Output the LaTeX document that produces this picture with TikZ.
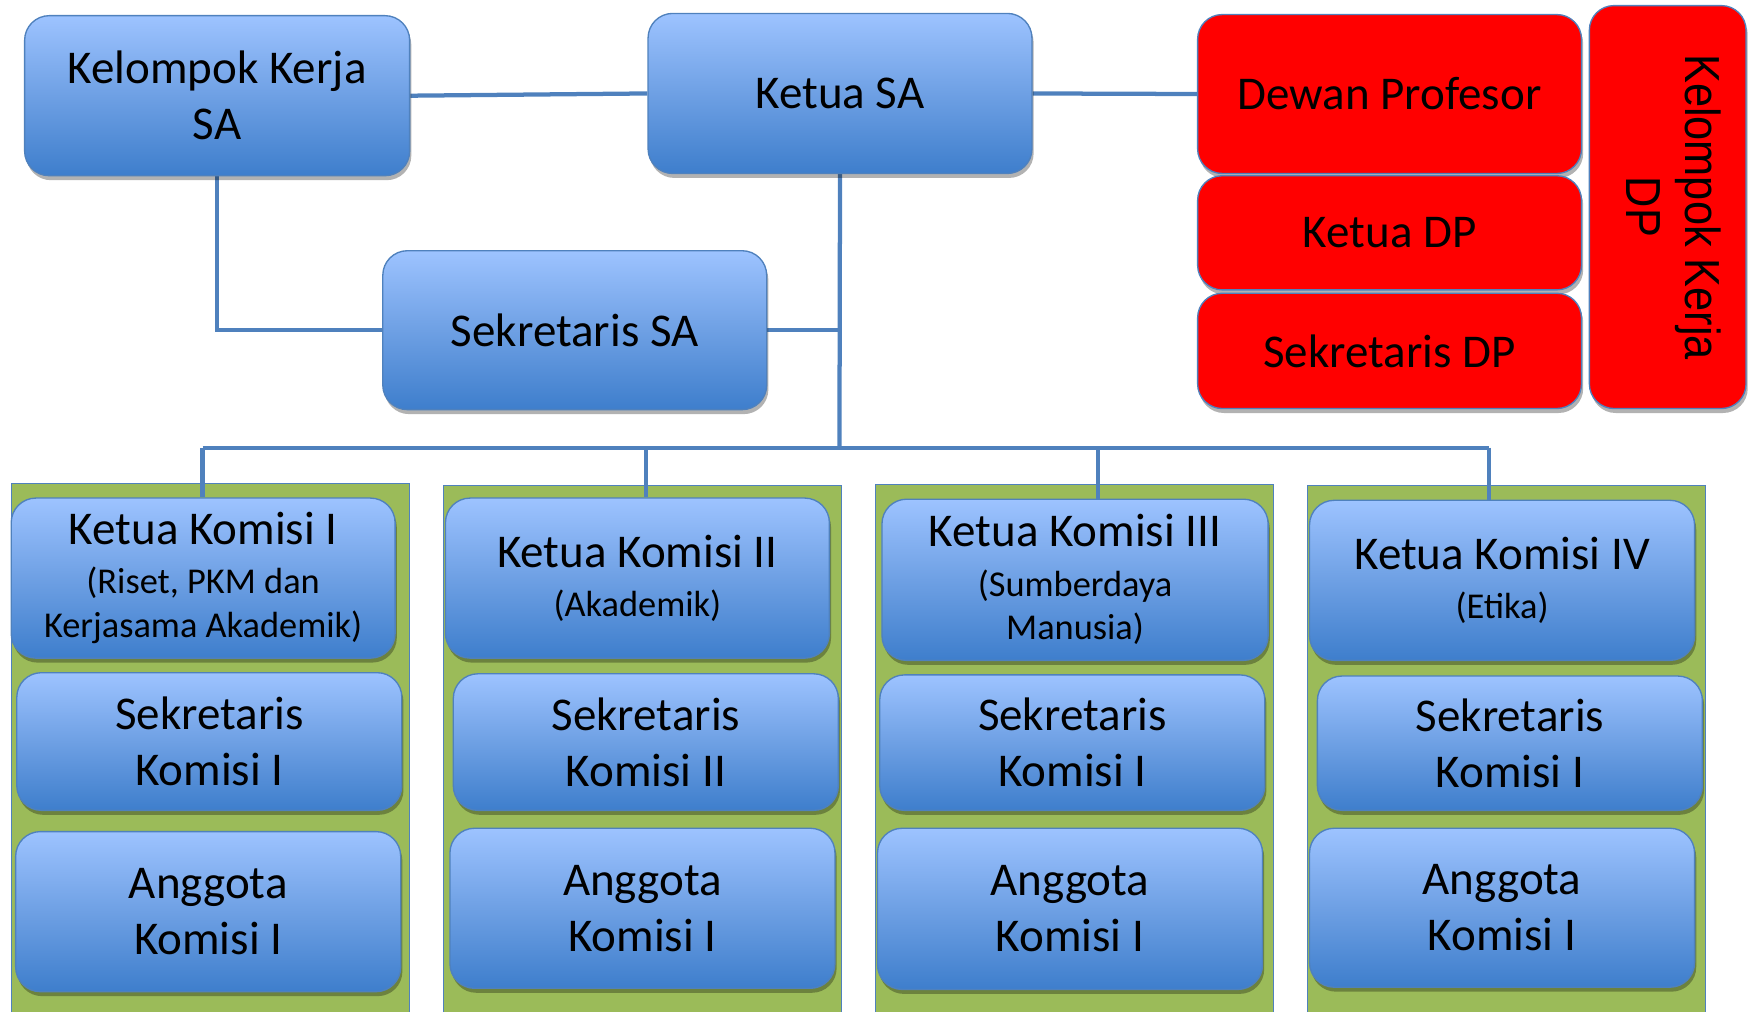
\documentclass[tikz,border=0pt]{standalone}
\usepackage{fontspec}
\usepackage{graphicx}
\setmainfont{Carlito}
\newfontfamily\arialf{Liberation Sans}
\usetikzlibrary{shadows,calc}
\pgfdeclarelayer{panels}
\pgfdeclarelayer{lines}
\pgfsetlayers{panels,lines,main}

\definecolor{lineblue}{RGB}{79,129,189}
\definecolor{topblue}{RGB}{157,195,255}
\definecolor{midblue}{RGB}{110,160,228}
\definecolor{botblue}{RGB}{62,126,204}
\definecolor{panelgreen}{RGB}{155,187,89}
\definecolor{boxred}{RGB}{255,0,0}

\newcommand\BigF{\fontsize{42}{50}\selectfont}
\newcommand\SmallF{\fontsize{32.5}{39}\selectfont}

\tikzset{
  shad/.style={drop shadow={shadow xshift=1.5pt, shadow yshift=-4pt, opacity=0.3, fill=black}},
  bluebox/.style={shad, draw=lineblue, line width=1.2pt, rounded corners=22,
    top color=topblue, bottom color=botblue, middle color=midblue,
    align=center, font=\BigF, inner sep=0pt},
  redbox/.style={shad, draw=lineblue, line width=1.2pt, rounded corners=22,
    fill=boxred, align=center, font=\BigF, inner sep=0pt},
  ketuabox/.style={bluebox, font=\fontsize{42}{39}\selectfont},
  panel/.style={draw=lineblue, line width=1.2pt, fill=panelgreen},
  conn/.style={draw=lineblue, line width=3.8pt},
}

\begin{document}
\begin{tikzpicture}[x=1pt,y=-1pt]
\useasboundingbox (0,0) rectangle (1568,904);

% panels
\begin{pgfonlayer}{panels}
\draw[panel] (10,432) rectangle (366,906);
\draw[panel] (396,434) rectangle (752,906);
\draw[panel] (782,433) rectangle (1138,906);
\draw[panel] (1168,434) rectangle (1524,906);
\end{pgfonlayer}

% top level
\node[bluebox, minimum width=344, minimum height=143] (kksa) at (194,85.5) {Kelompok Kerja\\SA};
\node[bluebox, minimum width=343, minimum height=143] (ketuasa) at (750.5,83.5) {Ketua SA};
\node[bluebox, minimum width=343, minimum height=142] (seksa) at (513.5,295) {Sekretaris SA};

\node[redbox, minimum width=343, minimum height=142] (dewan) at (1241.5,84) {Dewan Profesor};
\node[redbox, minimum width=343, minimum height=102] (ketuadp) at (1241.5,208) {Ketua DP};
\node[redbox, minimum width=343, minimum height=103] (sekdp) at (1241.5,313.5) {Sekretaris DP};
\node[redbox, rotate=-90, minimum width=360, minimum height=140] (kkdp) at (1490,185)
  {\scalebox{0.88}[1]{\arialf\fontsize{44}{53}\selectfont\begin{tabular}{@{}c@{}}Kelompok Kerja\\DP\end{tabular}}};

% komisi I
\node[ketuabox, minimum width=343, minimum height=143] (k1) at (181.5,516.5)
  {Ketua Komisi I\\[5pt]{\SmallF (Riset, PKM dan}\\{\SmallF Kerjasama Akademik)}};
\node[bluebox, minimum width=344, minimum height=123] (s1) at (187,662.5) {Sekretaris\\Komisi I};
\node[bluebox, minimum width=344, minimum height=143] (a1) at (186,814.5) {Anggota\\Komisi I};
% komisi II
\node[ketuabox, minimum width=343, minimum height=143] (k2) at (569.5,516.5)
  {Ketua Komisi II\\[5pt]{\SmallF (Akademik)}};
\node[bluebox, minimum width=344, minimum height=122] (s2) at (577,663) {Sekretaris\\Komisi II};
\node[bluebox, minimum width=344, minimum height=143] (a2) at (574,811.5) {Anggota\\Komisi I};
% komisi III
\node[ketuabox, minimum width=345, minimum height=144] (k3) at (960.5,518)
  {Ketua Komisi III\\[5pt]{\SmallF (Sumberdaya}\\{\SmallF Manusia)}};
\node[bluebox, minimum width=344, minimum height=121] (s3) at (958,663.5) {Sekretaris\\Komisi I};
\node[bluebox, minimum width=344, minimum height=144] (a3) at (956,812) {Anggota\\Komisi I};
% komisi IV
\node[ketuabox, minimum width=344, minimum height=143] (k4) at (1342,518.5)
  {Ketua Komisi IV\\[5pt]{\SmallF (Etika)}};
\node[bluebox, minimum width=344, minimum height=120] (s4) at (1349,664) {Sekretaris\\Komisi I};
\node[bluebox, minimum width=344, minimum height=142] (a4) at (1342,811) {Anggota\\Komisi I};

% connectors
\coordinate (hub) at (750,400);
\coordinate (b1) at (181,400);
\coordinate (b2) at (577,400);
\coordinate (b3) at (981,400);
\coordinate (b4) at (1330,400);
\begin{pgfonlayer}{lines}
\draw[conn] (kksa.east) -- (ketuasa.west);
\draw[conn] (ketuasa.east) -- (dewan.west);
\draw[conn] (ketuasa.south) -- (hub);
\draw[conn] (seksa.east) -- (seksa.east -| hub);
\draw[conn] (kksa.south) |- (seksa.west);
\draw[conn] (b1) -- (b4);
\draw[conn] (b1) -- (b1 |- k1.north);
\draw[conn] (b2) -- (b2 |- k2.north);
\draw[conn] (b3) -- (b3 |- k3.north);
\draw[conn] (b4) -- (b4 |- k4.north);
\end{pgfonlayer}
\end{tikzpicture}
\end{document}
